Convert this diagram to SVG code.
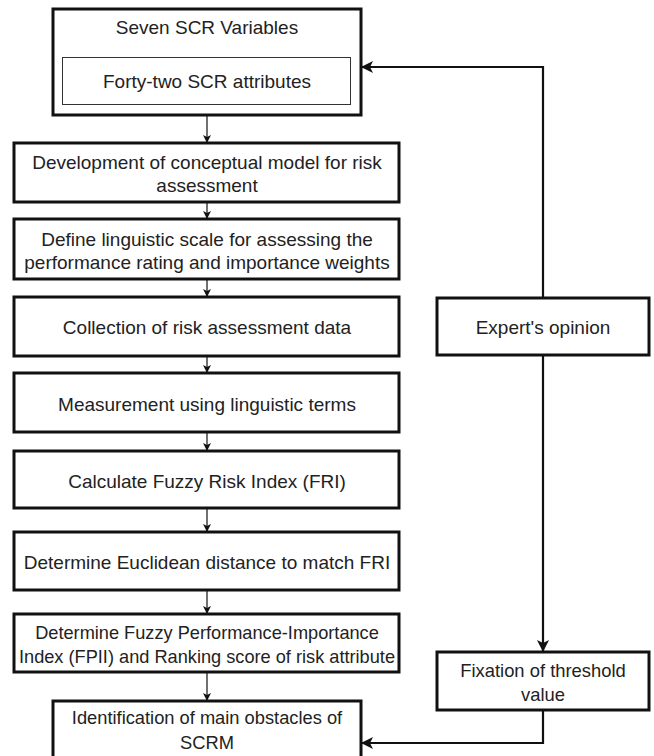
<svg xmlns="http://www.w3.org/2000/svg" width="654" height="756" viewBox="0 0 654 756">
<defs>
<style>
.box{fill:#fff;stroke:#111;stroke-width:3}
.inner{fill:#fff;stroke:#333;stroke-width:1}
.t{font-family:"Liberation Sans",Arial,sans-serif;font-size:19px;fill:#222;text-anchor:middle}
.s{font-size:18.2px}
.c1{fill:none;stroke:#111;stroke-width:1.2}
.c2{fill:none;stroke:#111;stroke-width:2.2}
</style>
<marker id="a1" markerWidth="8" markerHeight="8" refX="7" refY="4" orient="auto" markerUnits="userSpaceOnUse">
<path d="M0,0 L8,4 L0,8 L2,4 Z" fill="#111"/>
</marker>
<marker id="a2" markerWidth="12" markerHeight="12" refX="11" refY="6" orient="auto" markerUnits="userSpaceOnUse">
<path d="M0,0 L12,6 L0,12 L3,6 Z" fill="#111"/>
</marker>
</defs>
<rect width="654" height="756" fill="#fff"/>
<g id="connectors">
<line class="c1" x1="207" y1="115" x2="207" y2="142" marker-end="url(#a1)"/>
<line class="c1" x1="207" y1="202" x2="207" y2="218" marker-end="url(#a1)"/>
<line class="c1" x1="207" y1="279" x2="207" y2="296" marker-end="url(#a1)"/>
<line class="c1" x1="207" y1="356" x2="207" y2="372" marker-end="url(#a1)"/>
<line class="c1" x1="207" y1="432" x2="207" y2="450" marker-end="url(#a1)"/>
<line class="c1" x1="207" y1="508" x2="207" y2="531" marker-end="url(#a1)"/>
<line class="c1" x1="207" y1="590" x2="207" y2="613" marker-end="url(#a1)"/>
<line class="c1" x1="207" y1="672" x2="207" y2="700" marker-end="url(#a1)"/>
<polyline class="c2" points="543,298 543,67 362,67" marker-end="url(#a2)"/>
<line class="c2" x1="543" y1="355" x2="543" y2="651" marker-end="url(#a2)"/>
<polyline class="c2" points="543,710 543,743 362,743" marker-end="url(#a2)"/>
</g>
<g id="n0">
<rect class="box" x="53" y="9" width="308" height="106"/>
<text class="t" x="207" y="34">Seven SCR Variables</text>
<rect class="inner" x="62.5" y="57.5" width="288" height="47"/>
<text class="t" x="207" y="88">Forty-two SCR attributes</text>
</g>
<g id="n1">
<rect class="box" x="14" y="143" width="385" height="59"/>
<text class="t" x="207" y="169">Development of conceptual model for risk</text>
<text class="t" x="207" y="192">assessment</text>
</g>
<g id="n2">
<rect class="box" x="14" y="219" width="385" height="60"/>
<text class="t" x="207" y="246">Define linguistic scale for assessing the</text>
<text class="t" x="207" y="269">performance rating and importance weights</text>
</g>
<g id="n3">
<rect class="box" x="14" y="297" width="385" height="59"/>
<text class="t" x="207" y="334">Collection of risk assessment data</text>
</g>
<g id="n4">
<rect class="box" x="14" y="373" width="385" height="59"/>
<text class="t" x="207" y="411">Measurement using linguistic terms</text>
</g>
<g id="n5">
<rect class="box" x="14" y="451" width="385" height="57"/>
<text class="t" x="207" y="488">Calculate Fuzzy Risk Index (FRI)</text>
</g>
<g id="n6">
<rect class="box" x="14" y="532" width="385" height="58"/>
<text class="t" x="207" y="569">Determine Euclidean distance to match FRI</text>
</g>
<g id="n7">
<rect class="box" x="14" y="614" width="385" height="58"/>
<text class="t s" x="207" y="639">Determine Fuzzy Performance-Importance</text>
<text class="t s" x="207" y="663">Index (FPII) and Ranking score of risk attribute</text>
</g>
<g id="n8">
<rect class="box" x="53" y="701" width="308" height="62"/>
<text class="t" x="207" y="724" style="font-size:18.3px">Identification of main obstacles of</text>
<text class="t" x="207" y="749" style="font-size:18.3px">SCRM</text>
</g>
<g id="n9">
<rect class="box" x="437" y="298" width="212" height="57"/>
<text class="t" x="543" y="334">Expert's opinion</text>
</g>
<g id="n10">
<rect class="box" x="437" y="652" width="212" height="58"/>
<text class="t" x="543" y="677" style="font-size:18.4px">Fixation of threshold</text>
<text class="t" x="543" y="701" style="font-size:18.4px">value</text>
</g>
</svg>
